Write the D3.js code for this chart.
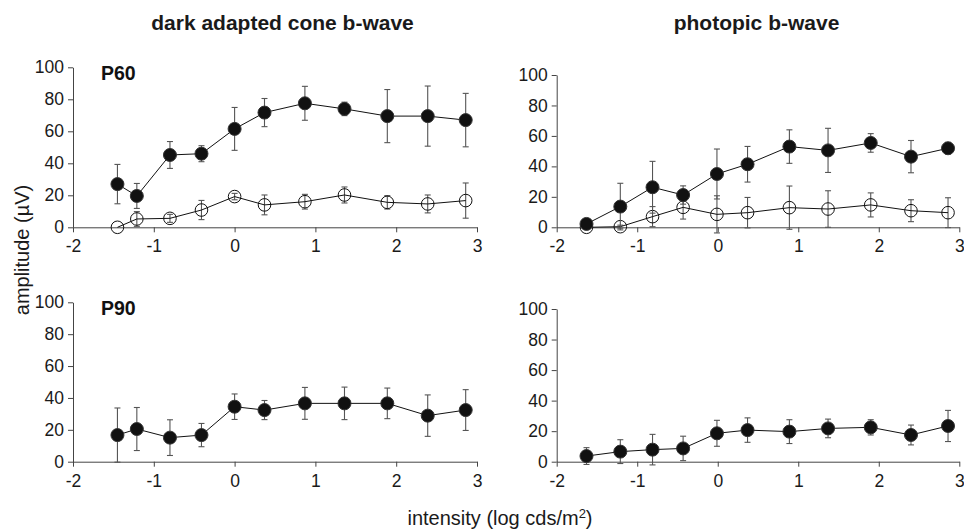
<!DOCTYPE html>
<html>
<head>
<meta charset="utf-8">
<script src="https://cdn.jsdelivr.net/npm/d3@7"></script>
<style>
  body { margin: 0; background: #fff; }
  svg { display: block; font-family: "Liberation Sans", Arial, Helvetica, sans-serif; }
</style>
</head>
<body>
<svg id="chart" width="964" height="531"></svg>
<script>
// intensities (log cds/m2)
const xDark = [-1.45, -1.21, -0.80, -0.41, 0, 0.37, 0.87, 1.36, 1.89, 2.39, 2.86];
const xPhot = [-1.63, -1.21, -0.81, -0.43, -0.01, 0.37, 0.89, 1.37, 1.90, 2.40, 2.86];

// P60 dark adapted cone b-wave
const darkP60Filled = [27, 19.6, 45.2, 46, 61.5, 71.7, 77.5, 74, 69.5, 69.5, 67];
const darkP60FilledErr = [12.3, 7.8, 8.4, 5, 13.4, 8.8, 10.6, 4.2, 16.6, 18.8, 16.7];
const darkP60Open = [0, 5.2, 5.6, 10.8, 19.2, 14, 16, 20.2, 15.6, 14.6, 16.7];
const darkP60OpenErr = [0, 4.6, 2.5, 6, 2, 6.2, 4.6, 5, 4.2, 5.6, 11];

// P60 photopic b-wave
const photP60Filled = [2.2, 13.6, 26.3, 21.2, 35, 41.4, 53, 50.5, 55.4, 46.4, 51.9];
const photP60FilledErr = [2, 15.3, 17, 6, 16.4, 11.7, 11, 14.5, 6.1, 10.6, 3.8];
const photP60Open = [0, 0.4, 7, 13.1, 8.5, 9.6, 12.9, 12, 14.7, 10.9, 9.6];
const photP60OpenErr = [0, 1, 6.6, 7.7, 12.2, 10, 14.2, 12, 7.9, 7.2, 9.8];

// P90
const darkP90Filled = [16.7, 20.5, 15.1, 16.7, 34.5, 32.4, 36.6, 36.6, 36.6, 28.9, 32.4];
const darkP90FilledErr = [17, 13.5, 11.2, 7.3, 8, 6, 10, 10.2, 9.6, 13, 12.8];
const photP90Filled = [3.7, 6.6, 7.9, 8.7, 18.6, 20.7, 19.7, 21.8, 22.5, 17.5, 23.4];
const photP90FilledErr = [5.5, 7.8, 10, 8, 8.5, 8, 7.8, 6.1, 5, 6.5, 10.2];

const xTicks = [-2, -1, 0, 1, 2, 3];
const yTicks = [0, 20, 40, 60, 80, 100];

const svg = d3.select("#chart");

const panels = [
  { left: 73, right: 477, top: 67.3, bottom: 227.3, label: "P60",
    xs: xDark, series: [[darkP60Open, darkP60OpenErr, false], [darkP60Filled, darkP60FilledErr, true]] },
  { left: 556.7, right: 959.3, top: 75, bottom: 227.3, label: null,
    xs: xPhot, series: [[photP60Open, photP60OpenErr, false], [photP60Filled, photP60FilledErr, true]] },
  { left: 73, right: 477, top: 302.3, bottom: 461.7, label: "P90",
    xs: xDark, series: [[darkP90Filled, darkP90FilledErr, true]] },
  { left: 556.7, right: 959.3, top: 309, bottom: 461.7, label: null,
    xs: xPhot, series: [[photP90Filled, photP90FilledErr, true]] }
];

panels.forEach(p => {
  const x = d3.scaleLinear().domain([-2, 3]).range([p.left, p.right]);
  const y = d3.scaleLinear().domain([0, 100]).range([p.bottom, p.top]);
  const g = svg.append("g");

  const xAxis = g.append("g")
    .attr("transform", `translate(0,${p.bottom})`)
    .call(d3.axisBottom(x).tickValues(xTicks).tickFormat(d => String(d))
      .tickSize(5).tickPadding(5).tickSizeOuter(0));
  const yAxis = g.append("g")
    .attr("transform", `translate(${p.left},0)`)
    .call(d3.axisLeft(y).tickValues(yTicks).tickFormat(d => String(d))
      .tickSize(5).tickPadding(4).tickSizeOuter(0));
  [xAxis, yAxis].forEach(a => {
    a.selectAll("path").attr("stroke", "#444");
    a.selectAll("line").attr("stroke", "#444");
    a.selectAll("text").attr("fill", "#1a1a1a").style("font-size", "17.5px");
  });
  xAxis.selectAll("text").attr("dy", "0.85em");

  p.series.forEach(([vals, errs, filled]) => {
    const pts = vals.map((v, i) => ({ x: p.xs[i], y: v, e: errs[i] }));
    const eb = g.append("g").attr("stroke", "#555").attr("stroke-width", 1.1);
    pts.filter(d => d.e > 0).forEach(d => {
      eb.append("line").attr("x1", x(d.x)).attr("x2", x(d.x))
        .attr("y1", y(d.y - d.e)).attr("y2", y(d.y + d.e));
      [d.y - d.e, d.y + d.e].forEach(v => {
        eb.append("line").attr("x1", x(d.x) - 3).attr("x2", x(d.x) + 3)
          .attr("y1", y(v)).attr("y2", y(v));
      });
    });
    g.append("path").datum(pts)
      .attr("fill", "none").attr("stroke", "#111").attr("stroke-width", 1)
      .attr("d", d3.line().x(d => x(d.x)).y(d => y(d.y)));
    g.selectAll(null).data(pts).join("circle")
      .attr("cx", d => x(d.x)).attr("cy", d => y(d.y))
      .attr("r", filled ? 6.5 : 6.3)
      .attr("fill", filled ? "#111" : "none")
      .attr("stroke", filled ? "#333" : "#111")
      .attr("stroke-width", 1);
  });

  if (p.label) {
    g.append("text").attr("x", 101).attr("y", p.top + 13)
      .attr("font-weight", "bold").attr("font-size", 19.5).attr("fill", "#111")
      .text(p.label);
  }
});

svg.append("text").attr("x", 282.5).attr("y", 30).attr("text-anchor", "middle")
  .attr("font-weight", "bold").attr("font-size", 21).attr("fill", "#1a1a1a")
  .text("dark adapted cone b-wave");
svg.append("text").attr("x", 756.5).attr("y", 30).attr("text-anchor", "middle")
  .attr("font-weight", "bold").attr("font-size", 21).attr("fill", "#1a1a1a")
  .text("photopic b-wave");

const xl = svg.append("text").attr("x", 500).attr("y", 525).attr("text-anchor", "middle")
  .attr("font-size", 20).attr("fill", "#1a1a1a");
xl.append("tspan").text("intensity (log cds/m");
xl.append("tspan").attr("font-size", 13).attr("dy", -7).text("2");
xl.append("tspan").attr("dy", 7).text(")");

svg.append("text").attr("transform", "translate(29,250) rotate(-90)")
  .attr("text-anchor", "middle").attr("font-size", 20).attr("fill", "#1a1a1a")
  .text("amplitude (\u00b5V)");
</script>
</body>
</html>
